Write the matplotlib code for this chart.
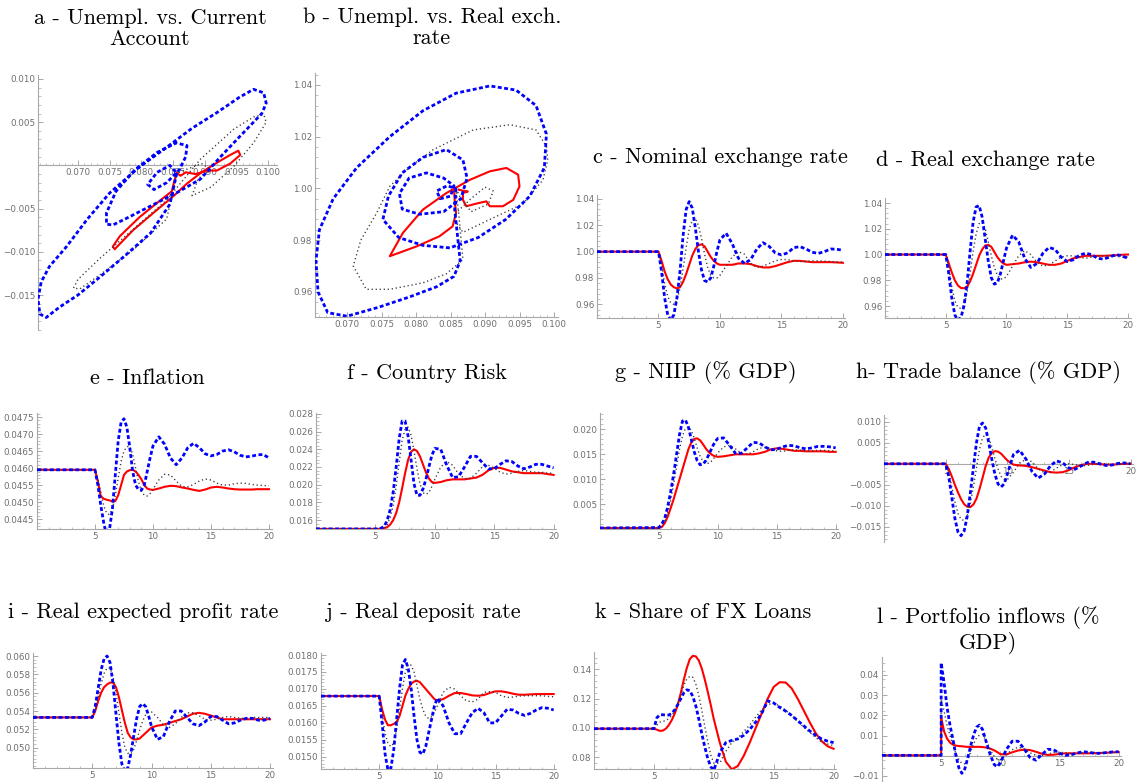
import matplotlib
matplotlib.use('Agg')
import matplotlib.pyplot as plt
from matplotlib.ticker import FixedLocator, AutoMinorLocator

W, H = 1138, 782

# time grid shared by the impulse-response panels
T = [0, 5.0, 5.25, 5.5, 5.75, 6.0, 6.25, 6.5, 6.75, 7.0, 7.25, 7.5, 7.75, 8.0, 8.25, 8.5, 8.75,
     9.0, 9.25, 9.5, 9.75, 10.0, 10.5, 11, 11.5, 12, 12.5, 13, 13.5, 14, 14.5, 15, 15.5, 16,
     16.5, 17, 17.5, 18, 18.5, 19, 19.5, 20]
# portfolio inflows jump at t=5, so it gets the value at 5 twice
T_L = [0, 5.0] + T[1:]

# ---- a : unemployment vs current account (phase plot) ----
a_blue_u = [0.0856, 0.0845, 0.0815, 0.0775, 0.0735, 0.0700, 0.0671, 0.0650, 0.0640, 0.0637, 0.0642,
            0.0655, 0.0682, 0.0715, 0.0750, 0.0795, 0.0840, 0.0880, 0.0919, 0.0955, 0.0977, 0.0993,
            0.0997, 0.0990, 0.0956, 0.0925, 0.0893, 0.0860, 0.0820, 0.0780, 0.0755, 0.0745, 0.0745,
            0.0760, 0.0790, 0.0825, 0.0855, 0.0872, 0.0870, 0.0860, 0.0840, 0.0820, 0.0810, 0.0825,
            0.0845, 0.0856]
a_blue_ca = [-0.0009, -0.0045, -0.0078, -0.0104, -0.0129, -0.0150, -0.0164, -0.0176, -0.0172, -0.0155,
             -0.0135, -0.0117, -0.0094, -0.0062, -0.0032, -0.0003, 0.0021, 0.0043, 0.0061, 0.0079,
             0.0088, 0.0084, 0.0072, 0.0060, 0.0034, 0.0010, -0.0016, -0.0030, -0.0045, -0.0060,
             -0.0069, -0.0068, -0.0055, -0.0030, -0.0005, 0.0015, 0.0026, 0.0023, 0.0010, -0.0005,
             -0.0020, -0.0028, -0.0022, -0.0008, 0.0000, -0.0009]
a_gray_u = [0.0856, 0.0840, 0.0787, 0.0734, 0.0703, 0.0693, 0.0700, 0.0734, 0.0787, 0.0840, 0.0893,
            0.0946, 0.0977, 0.0993, 0.0997, 0.0977, 0.0946, 0.0910, 0.0880, 0.0890, 0.0910, 0.0895,
            0.0870, 0.0856]
a_gray_ca = [-0.0009, -0.0062, -0.0098, -0.0127, -0.0143, -0.0142, -0.0132, -0.0108, -0.0074, -0.0040,
             0.0007, 0.0042, 0.0056, 0.0059, 0.0050, 0.0026, -0.0001, -0.0025, -0.0035, -0.0015,
             -0.0005, 0.0002, -0.0005, -0.0009]
a_red_u = [0.0856, 0.0852, 0.0848, 0.0829, 0.0797, 0.0766, 0.0755, 0.0758, 0.0787, 0.0819, 0.0850,
           0.0872, 0.0895, 0.0919, 0.0940, 0.0953, 0.0956, 0.0940, 0.0919, 0.0905, 0.0885, 0.0870,
           0.0862, 0.0856]
a_red_ca = [-0.0009, -0.0018, -0.0030, -0.0041, -0.0060, -0.0082, -0.0094, -0.0097, -0.0075, -0.0055,
            -0.0036, -0.0021, -0.0008, 0.0003, 0.0012, 0.0017, 0.0012, 0.0002, -0.0006, -0.0006,
            -0.0010, -0.0008, -0.0012, -0.0009]

# ---- b : unemployment vs real exchange rate (phase plot) ----
b_blue_u = [0.0858, 0.0856, 0.0860, 0.0864, 0.0855, 0.0830, 0.0790, 0.0745, 0.0700, 0.0672, 0.0658,
            0.0655, 0.0660, 0.0680, 0.0714, 0.0762, 0.0810, 0.0858, 0.0907, 0.0945, 0.0974, 0.0989,
            0.0986, 0.0965, 0.0930, 0.0890, 0.0849, 0.0810, 0.0775, 0.0752, 0.0760, 0.0780, 0.0810,
            0.0844, 0.0868, 0.0874, 0.0865, 0.0840, 0.0805, 0.0780, 0.0776, 0.0790, 0.0815, 0.0840,
            0.0855, 0.0850, 0.0835, 0.0830, 0.0845, 0.0858]
b_blue_rer = [1.000, 0.992, 0.982, 0.972, 0.966, 0.962, 0.958, 0.954, 0.9506, 0.952, 0.960, 0.972,
              0.984, 0.996, 1.008, 1.020, 1.030, 1.0368, 1.0396, 1.038, 1.032, 1.021, 1.008, 0.997,
              0.988, 0.981, 0.977, 0.978, 0.981, 0.988, 0.997, 1.006, 1.012, 1.015, 1.011, 1.004,
              0.996, 0.991, 0.990, 0.992, 0.998, 1.004, 1.006, 1.004, 1.001, 0.997, 0.996, 0.999,
              1.001, 1.000]
b_gray_u = [0.0858, 0.0862, 0.0868, 0.0844, 0.0810, 0.0762, 0.0728, 0.0709, 0.0720, 0.0743, 0.0762,
            0.0790, 0.0825, 0.0883, 0.0936, 0.0974, 0.0989, 0.0991, 0.0984, 0.0955, 0.0907, 0.0868,
            0.0855, 0.0858, 0.0878, 0.0900, 0.0912, 0.0905, 0.0880, 0.0865, 0.0858]
b_gray_rer = [1.000, 0.990, 0.9725, 0.967, 0.9635, 0.961, 0.961, 0.970, 0.980, 0.9905, 1.0008, 1.008,
              1.015, 1.0226, 1.0246, 1.0226, 1.0162, 1.011, 1.0033, 0.994, 0.988, 0.983, 0.988,
              0.9905, 0.9956, 1.0005, 0.999, 0.994, 0.991, 0.996, 1.000]
b_red_u = [0.0855, 0.0856, 0.0858, 0.0853, 0.0834, 0.0801, 0.0762, 0.0781, 0.0810, 0.0844, 0.0878,
           0.0907, 0.0931, 0.0948, 0.0950, 0.0941, 0.0926, 0.0907, 0.0902, 0.0887, 0.0873, 0.0868,
           0.0868, 0.0875, 0.0870, 0.0862]
b_red_rer = [1.000, 0.9956, 0.9905, 0.9853, 0.9815, 0.9776, 0.9738, 0.9828, 0.9918, 0.9982, 1.0033,
             1.0066, 1.0079, 1.0053, 1.0008, 0.9956, 0.9931, 0.9931, 0.9950, 0.9941, 0.9931, 0.9956,
             0.9982, 0.9988, 0.9990, 0.9995]

# ---- c : nominal exchange rate ----
c_blue = [1.000, 1.000, 0.985, 0.965, 0.952, 0.948, 0.952, 0.965, 0.985, 1.012, 1.032, 1.038, 1.033,
          1.018, 1.000, 0.986, 0.978, 0.977, 0.980, 0.989, 1.000, 1.009, 1.014, 1.006, 0.995, 0.991,
          0.994, 1.002, 1.0068, 1.004, 0.999, 0.9975, 0.999, 1.003, 1.0038, 1.002, 0.9995, 0.9987,
          1.000, 1.002, 1.0018, 1.001]
c_gray = [1.000, 1.000, 0.990, 0.976, 0.966, 0.961, 0.960, 0.963, 0.972, 0.987, 1.003, 1.017, 1.024,
          1.025, 1.020, 1.010, 0.998, 0.988, 0.982, 0.980, 0.980, 0.982, 0.989, 0.996, 1.000, 0.998,
          0.991, 0.988, 0.989, 0.991, 0.993, 0.994, 0.994, 0.993, 0.9925, 0.9925, 0.993, 0.993,
          0.9928, 0.9925, 0.9922, 0.992]
c_red = [1.000, 1.000, 0.993, 0.985, 0.979, 0.975, 0.973, 0.972, 0.973, 0.977, 0.983, 0.990, 0.997,
         1.002, 1.005, 1.0055, 1.004, 1.000, 0.996, 0.993, 0.991, 0.990, 0.990, 0.990, 0.991, 0.991,
         0.9905, 0.989, 0.988, 0.988, 0.989, 0.9905, 0.992, 0.993, 0.993, 0.9925, 0.992, 0.992,
         0.992, 0.992, 0.9918, 0.9915]

# ---- d : real exchange rate ----
d_blue = [1.000, 1.000, 0.985, 0.966, 0.953, 0.949, 0.951, 0.960, 0.977, 1.002, 1.025, 1.037, 1.038,
          1.029, 1.012, 0.995, 0.982, 0.977, 0.978, 0.985, 0.995, 1.005, 1.015, 1.010, 0.997, 0.990,
          0.993, 1.001, 1.0055, 1.004, 0.998, 0.9945, 0.996, 0.9995, 1.001, 1.000, 0.997, 0.9965,
          0.998, 1.000, 0.999, 0.997]
d_gray = [1.000, 1.000, 0.990, 0.975, 0.964, 0.959, 0.958, 0.961, 0.970, 0.985, 1.002, 1.016, 1.024,
          1.025, 1.020, 1.010, 0.999, 0.990, 0.984, 0.981, 0.981, 0.983, 0.991, 0.999, 1.003, 1.000,
          0.994, 0.991, 0.992, 0.995, 0.998, 0.999, 0.999, 0.998, 0.997, 0.998, 0.999, 0.999, 0.999,
          0.9985, 0.998, 0.998]
d_red = [1.000, 1.000, 0.993, 0.986, 0.980, 0.976, 0.974, 0.9738, 0.975, 0.979, 0.985, 0.992, 0.999,
         1.004, 1.007, 1.0075, 1.006, 1.002, 0.998, 0.995, 0.993, 0.992, 0.9925, 0.993, 0.994, 0.9945,
         0.994, 0.993, 0.992, 0.992, 0.993, 0.995, 0.997, 0.998, 0.999, 0.999, 0.999, 0.999, 0.9992,
         0.9995, 0.9998, 1.000]

# ---- e : inflation ----
e_blue = [0.04595, 0.04595, 0.0455, 0.0449, 0.0444, 0.0440, 0.0442, 0.0448, 0.0458, 0.0468, 0.04735,
          0.04745, 0.0472, 0.0466, 0.0459, 0.0455, 0.04537, 0.04535, 0.0455, 0.0459, 0.0463, 0.04665,
          0.04692, 0.0467, 0.0463, 0.0461, 0.0463, 0.0466, 0.04673, 0.0466, 0.04642, 0.04636,
          0.0464, 0.0465, 0.04654, 0.04648, 0.04638, 0.04633, 0.04635, 0.04639, 0.0464, 0.0463]
e_gray = [0.04595, 0.04595, 0.0457, 0.0453, 0.0449, 0.04468, 0.04463, 0.0448, 0.0452, 0.0457, 0.0462,
          0.0465, 0.04663, 0.04664, 0.0464, 0.0460, 0.0456, 0.04533, 0.0452, 0.04518, 0.04525,
          0.04538, 0.04565, 0.04582, 0.0458, 0.04562, 0.04546, 0.04545, 0.04552, 0.04562, 0.04568,
          0.04565, 0.04556, 0.0455, 0.0455, 0.04554, 0.04556, 0.04555, 0.04552, 0.0455, 0.04549,
          0.04548]
e_red = [0.04595, 0.04595, 0.0456, 0.04517, 0.0451, 0.04507, 0.04505, 0.04502, 0.04503, 0.0452,
         0.0455, 0.0458, 0.0459, 0.04594, 0.04595, 0.0459, 0.0458, 0.04567, 0.0455, 0.0454, 0.04537,
         0.04536, 0.0454, 0.04545, 0.04548, 0.04547, 0.04543, 0.0454, 0.04536, 0.04533, 0.04537,
         0.04543, 0.04545, 0.04543, 0.0454, 0.04538, 0.04537, 0.04537, 0.04537, 0.04538, 0.04538,
         0.04538]

# ---- f : country risk ----
f_blue = [0.0150, 0.0150, 0.0150, 0.0151, 0.0153, 0.0160, 0.0172, 0.0192, 0.0220, 0.0252, 0.0272,
          0.0272, 0.0255, 0.0228, 0.0201, 0.0188, 0.0188, 0.0195, 0.0206, 0.0220, 0.0233, 0.0241,
          0.0240, 0.0222, 0.0208, 0.0209, 0.0220, 0.0232, 0.0232, 0.0225, 0.0218, 0.0218, 0.0223,
          0.0227, 0.0226, 0.0221, 0.0218, 0.0220, 0.0223, 0.0223, 0.0221, 0.0219]
f_gray = [0.0150, 0.0150, 0.0150, 0.0150, 0.0151, 0.0155, 0.0163, 0.0177, 0.0198, 0.0225, 0.0250,
          0.0263, 0.0265, 0.0256, 0.0238, 0.0218, 0.0201, 0.0191, 0.0189, 0.0191, 0.0198, 0.0206,
          0.0220, 0.0226, 0.0222, 0.0212, 0.0207, 0.0207, 0.0213, 0.0220, 0.0222, 0.0219, 0.0214,
          0.0212, 0.0213, 0.0215, 0.0216, 0.0215, 0.0214, 0.0214, 0.0213, 0.0213]
f_red = [0.0150, 0.0150, 0.0150, 0.0150, 0.0151, 0.0152, 0.0155, 0.0160, 0.0168, 0.0180, 0.0196,
         0.0213, 0.0228, 0.0237, 0.0240, 0.0238, 0.0232, 0.0223, 0.0214, 0.0207, 0.0203, 0.0202,
         0.0203, 0.0205, 0.0206, 0.0206, 0.0206, 0.0207, 0.0208, 0.0211, 0.0216, 0.0219, 0.0219,
         0.0217, 0.0215, 0.0214, 0.0213, 0.0213, 0.0213, 0.0213, 0.0212, 0.0211]

# ---- g : NIIP (% GDP) ----
g_blue = [0.0002, 0.0003, 0.0010, 0.0022, 0.0045, 0.0075, 0.0110, 0.0150, 0.0190, 0.0217, 0.0219,
          0.0205, 0.0180, 0.0155, 0.0137, 0.0129, 0.0130, 0.0138, 0.0150, 0.0163, 0.0175, 0.0182,
          0.0183, 0.0168, 0.0152, 0.0152, 0.0163, 0.0174, 0.0173, 0.0165, 0.0159, 0.0160, 0.0165,
          0.0168, 0.0167, 0.0163, 0.0161, 0.0163, 0.0166, 0.0166, 0.0165, 0.0163]
g_gray = [0.0002, 0.0002, 0.0006, 0.0015, 0.0032, 0.0058, 0.0090, 0.0125, 0.0160, 0.0187, 0.0202,
          0.0205, 0.0198, 0.0182, 0.0163, 0.0146, 0.0136, 0.0132, 0.0132, 0.0137, 0.0145, 0.0153,
          0.0165, 0.0168, 0.0161, 0.0152, 0.0150, 0.0155, 0.0162, 0.0164, 0.0161, 0.0157, 0.0156,
          0.0158, 0.0159, 0.0158, 0.0157, 0.0157, 0.0158, 0.0158, 0.0157, 0.0157]
g_red = [0.0002, 0.0002, 0.0004, 0.0012, 0.0025, 0.0042, 0.0060, 0.0080, 0.0100, 0.0120, 0.0140,
         0.0160, 0.0174, 0.0181, 0.0182, 0.0178, 0.0170, 0.0161, 0.0154, 0.0149, 0.0146, 0.0145,
         0.0146, 0.0148, 0.0150, 0.0150, 0.0150, 0.0150, 0.0152, 0.0155, 0.0160, 0.0162, 0.0161,
         0.0159, 0.0157, 0.0157, 0.0156, 0.0156, 0.0156, 0.0156, 0.0155, 0.0155]

# ---- h : trade balance (% GDP) ----
h_blue = [0.0, 0.0, -0.0030, -0.0080, -0.0130, -0.0162, -0.0171, -0.0160, -0.0125, -0.0070, -0.0010,
          0.0050, 0.0090, 0.0097, 0.0085, 0.0050, 0.0010, -0.0025, -0.0048, -0.0055, -0.0048,
          -0.0025, 0.0022, 0.0032, 0.0012, -0.0018, -0.0034, -0.0025, -0.0005, 0.0007, 0.0002,
          -0.0010, -0.0013, -0.0005, 0.0003, 0.0004, 0.0000, -0.0004, -0.0003, 0.0001, 0.0002, 0.0000]
h_gray = [0.0, 0.0, -0.0020, -0.0055, -0.0090, -0.0118, -0.0132, -0.0135, -0.0125, -0.0095, -0.0055,
          -0.0010, 0.0035, 0.0062, 0.0070, 0.0062, 0.0040, 0.0012, -0.0012, -0.0030, -0.0037,
          -0.0038, -0.0020, 0.0002, 0.0010, 0.0005, -0.0012, -0.0021, -0.0020, -0.0010, -0.0002,
          0.0000, -0.0002, -0.0005, -0.0004, -0.0001, 0.0001, 0.0000, -0.0002, -0.0001, 0.0000, 0.0001]
h_red = [0.0, 0.0, -0.0012, -0.0030, -0.0050, -0.0068, -0.0084, -0.0096, -0.0102, -0.0103, -0.0097,
         -0.0083, -0.0060, -0.0033, -0.0005, 0.0015, 0.0026, 0.0030, 0.0029, 0.0024, 0.0016, 0.0008,
         -0.0002, -0.0004, -0.0005, -0.0008, -0.0012, -0.0016, -0.0020, -0.0021, -0.0020, -0.0015,
         -0.0008, -0.0003, 0.0000, 0.0000, -0.0001, -0.0002, -0.0002, -0.0001, 0.0000, 0.0000]

# ---- i : real expected profit rate ----
i_blue = [0.0533, 0.0533, 0.0545, 0.0565, 0.0585, 0.0597, 0.0600, 0.0593, 0.0570, 0.0537, 0.0505,
          0.0482, 0.0474, 0.0478, 0.0493, 0.0513, 0.0532, 0.0545, 0.0548, 0.0545, 0.0535, 0.0523,
          0.0509, 0.0512, 0.0528, 0.0540, 0.0540, 0.0533, 0.0526, 0.0524, 0.0528, 0.0534, 0.0534,
          0.0530, 0.0526, 0.0527, 0.0530, 0.0532, 0.0532, 0.0530, 0.0530, 0.0532]
i_gray = [0.0533, 0.0533, 0.0540, 0.0555, 0.0570, 0.0581, 0.0587, 0.0587, 0.0578, 0.0560, 0.0538,
          0.0516, 0.0500, 0.0494, 0.0493, 0.0498, 0.0508, 0.0519, 0.0529, 0.0536, 0.0539, 0.0539,
          0.0533, 0.0525, 0.0522, 0.0526, 0.0533, 0.0538, 0.0538, 0.0535, 0.0531, 0.0530, 0.0531,
          0.0533, 0.0534, 0.0533, 0.0532, 0.0532, 0.0533, 0.0533, 0.0533, 0.0533]
i_red = [0.0533, 0.0533, 0.0540, 0.0551, 0.0560, 0.0566, 0.0569, 0.0571, 0.0571, 0.0566, 0.0555,
         0.0541, 0.0527, 0.0516, 0.0511, 0.0509, 0.0509, 0.0510, 0.0513, 0.0516, 0.0519, 0.0522,
         0.0524, 0.0525, 0.0527, 0.0529, 0.0531, 0.0534, 0.0537, 0.0538, 0.0537, 0.0535, 0.0533,
         0.0531, 0.0531, 0.0531, 0.0531, 0.0531, 0.0531, 0.0531, 0.0531, 0.0531]

# ---- j : real deposit rate ----
j_blue = [0.01679, 0.01679, 0.0160, 0.0151, 0.01462, 0.01465, 0.0152, 0.0161, 0.0170, 0.0177,
          0.01787, 0.0176, 0.0170, 0.0162, 0.0155, 0.01513, 0.01508, 0.0153, 0.0157, 0.0161, 0.0165,
          0.01673, 0.0165, 0.0160, 0.01568, 0.01568, 0.0160, 0.0163, 0.01643, 0.0163, 0.0160, 0.0160,
          0.0162, 0.0164, 0.01638, 0.01628, 0.01622, 0.01628, 0.01638, 0.01645, 0.01643, 0.01638]
j_gray = [0.01679, 0.01679, 0.0163, 0.0157, 0.0154, 0.0153, 0.0154, 0.0158, 0.0164, 0.0170, 0.0175,
          0.01772, 0.0177, 0.0175, 0.0171, 0.0167, 0.0164, 0.0162, 0.01613, 0.01618, 0.0163, 0.0165,
          0.0169, 0.01705, 0.0170, 0.0168, 0.01665, 0.01662, 0.0167, 0.0169, 0.01692, 0.0169,
          0.0168, 0.01675, 0.01676, 0.01679, 0.0168, 0.0168, 0.0168, 0.0168, 0.01678, 0.01677]
j_red = [0.01679, 0.01679, 0.0164, 0.0161, 0.01593, 0.01593, 0.01597, 0.01603, 0.0162, 0.0165,
         0.0168, 0.0170, 0.01715, 0.01722, 0.01724, 0.0172, 0.0171, 0.0170, 0.0169, 0.0168, 0.0167,
         0.01666, 0.0167, 0.0168, 0.01688, 0.01688, 0.01685, 0.01681, 0.0168, 0.01682, 0.01688,
         0.01693, 0.01693, 0.0169, 0.01686, 0.01683, 0.01683, 0.01684, 0.01685, 0.01685, 0.01685,
         0.01685]

# ---- k : share of FX loans ----
k_blue = [0.0995, 0.0995, 0.1070, 0.1090, 0.1090, 0.1087, 0.1088, 0.1100, 0.1125, 0.1160, 0.1200,
          0.1240, 0.1260, 0.1255, 0.1215, 0.1150, 0.1060, 0.0960, 0.0870, 0.0790, 0.0735, 0.0712,
          0.0830, 0.0900, 0.0915, 0.0925, 0.0950, 0.0990, 0.1040, 0.1100, 0.1185, 0.1170, 0.1140,
          0.1115, 0.1085, 0.1050, 0.1015, 0.0980, 0.0950, 0.0925, 0.0910, 0.0900]
k_gray = [0.0995, 0.0995, 0.1020, 0.1040, 0.1045, 0.1050, 0.1065, 0.1085, 0.1120, 0.1170, 0.1230,
          0.1290, 0.1335, 0.1352, 0.1345, 0.1300, 0.1220, 0.1120, 0.1010, 0.0905, 0.0815, 0.0760,
          0.0760, 0.0840, 0.0900, 0.0930, 0.0975, 0.1020, 0.1075, 0.1125, 0.1160, 0.1168, 0.1150,
          0.1120, 0.1085, 0.1045, 0.1005, 0.0970, 0.0935, 0.0905, 0.0890, 0.0880]
k_red = [0.0995, 0.0995, 0.0988, 0.0980, 0.0982, 0.0995, 0.1020, 0.1055, 0.1100, 0.1160, 0.1240,
         0.1330, 0.1410, 0.1470, 0.1492, 0.1488, 0.1460, 0.1405, 0.1330, 0.1245, 0.1155, 0.1060,
         0.0900, 0.0770, 0.0718, 0.0740, 0.0810, 0.0900, 0.1000, 0.1100, 0.1200, 0.1280, 0.1312,
         0.1310, 0.1270, 0.1200, 0.1120, 0.1040, 0.0965, 0.0910, 0.0875, 0.0858]

# ---- l : portfolio inflows (% GDP) ----
l_blue = [0.0002, 0.0002, 0.0460, 0.0360, 0.0240, 0.0150, 0.0080, 0.0000, -0.0060, -0.0087, -0.0065,
          -0.0010, 0.0050, 0.0105, 0.0142, 0.0152, 0.0130, 0.0080, 0.0030, -0.0010, -0.0045, -0.0054,
          -0.0035, 0.0030, 0.0072, 0.0072, 0.0035, -0.0008, -0.0022, 0.0005, 0.0032, 0.0030, 0.0012,
          0.0002, 0.0005, 0.0014, 0.0020, 0.0017, 0.0012, 0.0012, 0.0016, 0.0019, 0.0020]
l_gray = [0.0002, 0.0002, 0.0280, 0.0220, 0.0150, 0.0100, 0.0050, 0.0010, -0.0020, -0.0038, -0.0040,
          -0.0020, 0.0020, 0.0060, 0.0090, 0.0103, 0.0105, 0.0080, 0.0050, 0.0020, -0.0005, -0.0018,
          -0.0020, 0.0005, 0.0030, 0.0042, 0.0035, 0.0015, 0.0002, 0.0000, 0.0008, 0.0016, 0.0018,
          0.0014, 0.0011, 0.0011, 0.0014, 0.0016, 0.0016, 0.0015, 0.0015, 0.0016, 0.0017]
l_red = [0.0002, 0.0002, 0.0190, 0.0120, 0.0085, 0.0065, 0.0055, 0.0050, 0.0048, 0.0047, 0.0045,
         0.0044, 0.0044, 0.0044, 0.0044, 0.0044, 0.0043, 0.0041, 0.0038, 0.0033, 0.0026, 0.0018,
         0.0008, 0.0006, 0.0017, 0.0026, 0.0030, 0.0028, 0.0020, 0.0010, 0.0004, 0.0005, 0.0009,
         0.0012, 0.0012, 0.0012, 0.0012, 0.0012, 0.0013, 0.0014, 0.0015, 0.0017, 0.0018]

TITLE_FONT = ['cmr10', 'DejaVu Serif']
AX_COL = '#a8a8a8'
LAB_COL = '#6e6e6e'

fig = plt.figure(figsize=(W / 100, H / 100), dpi=100)


def lab(v, nd):
    return f'{v:.{nd}f}'.replace('-', '\u2212')


def panel(box, xlim, ylim, yticks, ynd, xticks=(5, 10, 15, 20), xnd=0, x_at=None):
    x0, y0, x1, y1 = box
    ax = fig.add_axes([x0 / W, 1 - y1 / H, (x1 - x0) / W, (y1 - y0) / H])
    ax.set_xlim(*xlim)
    ax.set_ylim(*ylim)
    ax.patch.set_alpha(0)
    for s in ['top', 'right']:
        ax.spines[s].set_visible(False)
    for s in ['left', 'bottom']:
        ax.spines[s].set_color(AX_COL)
        ax.spines[s].set_linewidth(0.8)
    if x_at is not None:
        ax.spines['bottom'].set_position(('data', x_at))
    ax.xaxis.set_major_locator(FixedLocator(list(xticks)))
    ax.set_xticklabels([lab(v, xnd) for v in xticks])
    ax.yaxis.set_major_locator(FixedLocator(list(yticks)))
    ax.set_yticklabels([lab(v, ynd) for v in yticks])
    ax.xaxis.set_minor_locator(AutoMinorLocator(5))
    ax.yaxis.set_minor_locator(AutoMinorLocator(5))
    ax.tick_params(which='major', direction='in', length=3.5, width=0.7, color=AX_COL,
                   labelsize=6.3, labelcolor=LAB_COL, pad=2)
    ax.tick_params(which='minor', direction='in', length=1.8, width=0.5, color=AX_COL)
    return ax


def draw(ax, xr, xg, xb, red, gray, blue):
    ax.plot(xr, red, color='#ff0000', lw=1.5, zorder=3)
    ax.plot(xg, gray, color='#3a3a3a', lw=1.0, ls=(0, (0.9, 2.0)), zorder=4)
    ax.plot(xb, blue, color='#0000ff', lw=2.0, ls=(0, (1.4, 0.9)), zorder=5)


def title(x, y, s):
    fig.text(x / W, 1 - y / H, s, ha='center', va='center', fontsize=16,
             family=TITLE_FONT, linespacing=1.12)


# a
ax = panel((38, 75, 277, 330), (0.0637, 0.1014), (-0.01905, 0.01046),
           [-0.015, -0.010, -0.005, 0.005, 0.010], 3,
           xticks=[0.070, 0.075, 0.080, 0.085, 0.090, 0.095, 0.100], xnd=3, x_at=0)
draw(ax, a_red_u, a_gray_u, a_blue_u, a_red_ca, a_gray_ca, a_blue_ca)
title(150, 29, 'a - Unempl. vs. Current\nAccount')

# b
ax = panel((315, 73, 558, 317), (0.06536, 0.10058), (0.9503, 1.0446),
           [0.96, 0.98, 1.00, 1.02, 1.04], 2,
           xticks=[0.070, 0.075, 0.080, 0.085, 0.090, 0.095, 0.100], xnd=3)
draw(ax, b_red_u, b_gray_u, b_blue_u, b_red_rer, b_gray_rer, b_blue_rer)
title(432, 28, 'b - Unempl. vs. Real exch.\nrate')

# c
ax = panel((597, 195, 845, 318), (0, 20.17), (0.9496, 1.043), [0.96, 0.98, 1.00, 1.02, 1.04], 2)
draw(ax, T, T, T, c_red, c_gray, c_blue)
title(720, 157, 'c - Nominal exchange rate')

# d
ax = panel((885, 198, 1131, 318), (0, 20.25), (0.9507, 1.0439), [0.96, 0.98, 1.00, 1.02, 1.04], 2)
draw(ax, T, T, T, d_red, d_gray, d_blue)
title(985, 160, 'd - Real exchange rate')

# e
ax = panel((37, 413, 272, 529), (0, 20.26), (0.04421, 0.04762),
           [0.0445, 0.0450, 0.0455, 0.0460, 0.0465, 0.0470, 0.0475], 4)
draw(ax, T, T, T, e_red, e_gray, e_blue)
title(147, 378, 'e - Inflation')

# f
ax = panel((316, 413, 556, 529), (0, 20.2), (0.01499, 0.0281),
           [0.016, 0.018, 0.020, 0.022, 0.024, 0.026, 0.028], 3)
draw(ax, T, T, T, f_red, f_gray, f_blue)
title(427, 373, 'f - Country Risk')

# g
ax = panel((600, 413, 838, 529), (0, 20.2), (0, 0.0233), [0.005, 0.010, 0.015, 0.020], 3)
draw(ax, T, T, T, g_red, g_gray, g_blue)
title(706, 373, 'g - NIIP (% GDP)')

# h
ax = panel((884, 415, 1133, 542), (0, 20.2), (-0.0186, 0.0116),
           [-0.015, -0.010, -0.005, 0.005, 0.010], 3, x_at=0)
draw(ax, T, T, T, h_red, h_gray, h_blue)
title(988, 373, 'h- Trade balance (% GDP)')

# i
ax = panel((33, 653, 273, 768), (0, 20.25), (0.04778, 0.06033),
           [0.050, 0.052, 0.054, 0.056, 0.058, 0.060], 3)
draw(ax, T, T, T, i_red, i_gray, i_blue)
title(143, 612, 'i - Real expected profit rate')

# j
ax = panel((321, 653, 556, 769), (0, 20.2), (0.01464, 0.01806),
           [0.0150, 0.0155, 0.0160, 0.0165, 0.0170, 0.0175, 0.0180], 4)
draw(ax, T, T, T, j_red, j_gray, j_blue)
title(423, 612, 'j - Real deposit rate')

# k
ax = panel((594, 652, 836, 769), (0, 20.2), (0.0720, 0.1518), [0.08, 0.10, 0.12, 0.14], 2)
draw(ax, T, T, T, k_red, k_gray, k_blue)
title(703, 612, 'k - Share of FX Loans')

# l
ax = panel((882, 657, 1121, 782), (0, 20.2), (-0.013, 0.0489),
           [-0.01, 0.01, 0.02, 0.03, 0.04], 2, x_at=0)
draw(ax, T_L, T_L, T_L, l_red, l_gray, l_blue)
title(988, 630, 'l - Portfolio inflows (%\nGDP)')

fig.savefig('out.png', dpi=100)
